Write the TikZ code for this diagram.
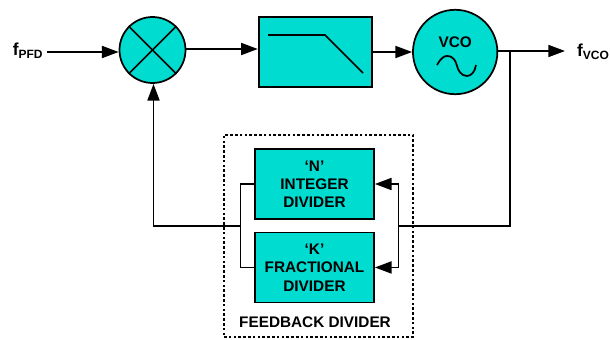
\documentclass[tikz,border=0pt]{standalone}
\usepackage{fontspec}
\setmainfont{Liberation Sans}
\usepackage{tikz}
\usetikzlibrary{arrows.meta}
\definecolor{pllcyan}{HTML}{00DCD0}
\newcommand{\freqname}[1]{{\fontsize{13}{13}\selectfont f}{\fontsize{9}{9}\selectfont\raisebox{-2.2pt}{#1}}}
\tikzset{>={Triangle[length=12.5pt,width=9pt]}}

\begin{document}
\begin{tikzpicture}[x=0.75pt, y=-0.75pt, line width=1.3pt,
                    every node/.style = {font=\bfseries\fontsize{11.5}{13.7}\selectfont},
                    main/.style = {draw, fill=pllcyan, align=center, inner sep=0pt},
                    round/.style = {main, circle},
                    block/.style = {main, rectangle, minimum width=89.25pt, minimum height=52.5pt},
                    feedback/.style = {draw, rectangle, line width=0.9pt, dash pattern=on 2pt off 1.6pt, minimum width=141.75pt, minimum height=151.5pt},
                    plain/.style = {inner sep=0pt}]
                    \useasboundingbox (0,0) rectangle (610,339);
                    \node[feedback] (FB) at (318.5,236) {};
                    \node[plain] (FBtext) at (315,322) {FEEDBACK DIVIDER};
                    \node[round, minimum size=49.5pt] (M) at (152.5,50) {};
                    \node[block, minimum width=84.75pt, node distance=122pt, yshift=-1.5pt] (LPF) [right of=M] {};
                    \node[round, minimum size=63.3pt, node distance=105pt] (VCO) [right of=LPF] {};
                    \node[plain] (VCOtext) at ([yshift=7.5pt]VCO.center) {VCO};
                    \node[block] (N) at (314.5,184) {`N'\\INTEGER\\DIVIDER};
                    \node[block, node distance=62.6pt] (K) [below of=N] {`K'\\FRACTIONAL\\DIVIDER};
                    \node[plain] (Fin) at (27.7,51) {\freqname{PFD}};
                    \node[plain] (Fout) at (593,52) {\freqname{VCO}};
                    \coordinate (In) at (47,52);
                    \coordinate (Out) at (565,51);
                    \coordinate (Tap) at (510,51);
                    \coordinate (Jr) at (398.5,225.7);
                    \coordinate (Jl) at (240.5,225.7);
                    \draw (M.45) -- (M.225);
                    \draw (M.135) -- (M.315);
                    \draw (268,35) -- (325,35) -- (363,73);
                    \draw (437,65) .. controls (441,58) and (444,56) .. (447,56) .. controls (454,56) and (456,62) .. (457,66) .. controls (458,70) and (461,76) .. (467,76) .. controls (471,76) and (475,72) .. (476,65);
                    \path[->] (In) edge (In -| M.west);
                    \path[->] ([yshift=0.75pt]M.east) edge ([yshift=2.25pt]LPF.west);
                    \path[->] (LPF) edge (VCO);
                    \path[->] ([yshift=0.75pt]VCO.east) edge (Out);
                    \draw (Tap) |- (Jr);
                    \draw[->] (Jr) |- (N.east);
                    \draw[->] (Jr) |- (K.east);
                    \draw (N.west) -| (Jl);
                    \draw (K.west) -| (Jl);
                    \draw[->] (Jl) -| ([xshift=0.75pt]M.south);
                \end{tikzpicture}
\end{document}
